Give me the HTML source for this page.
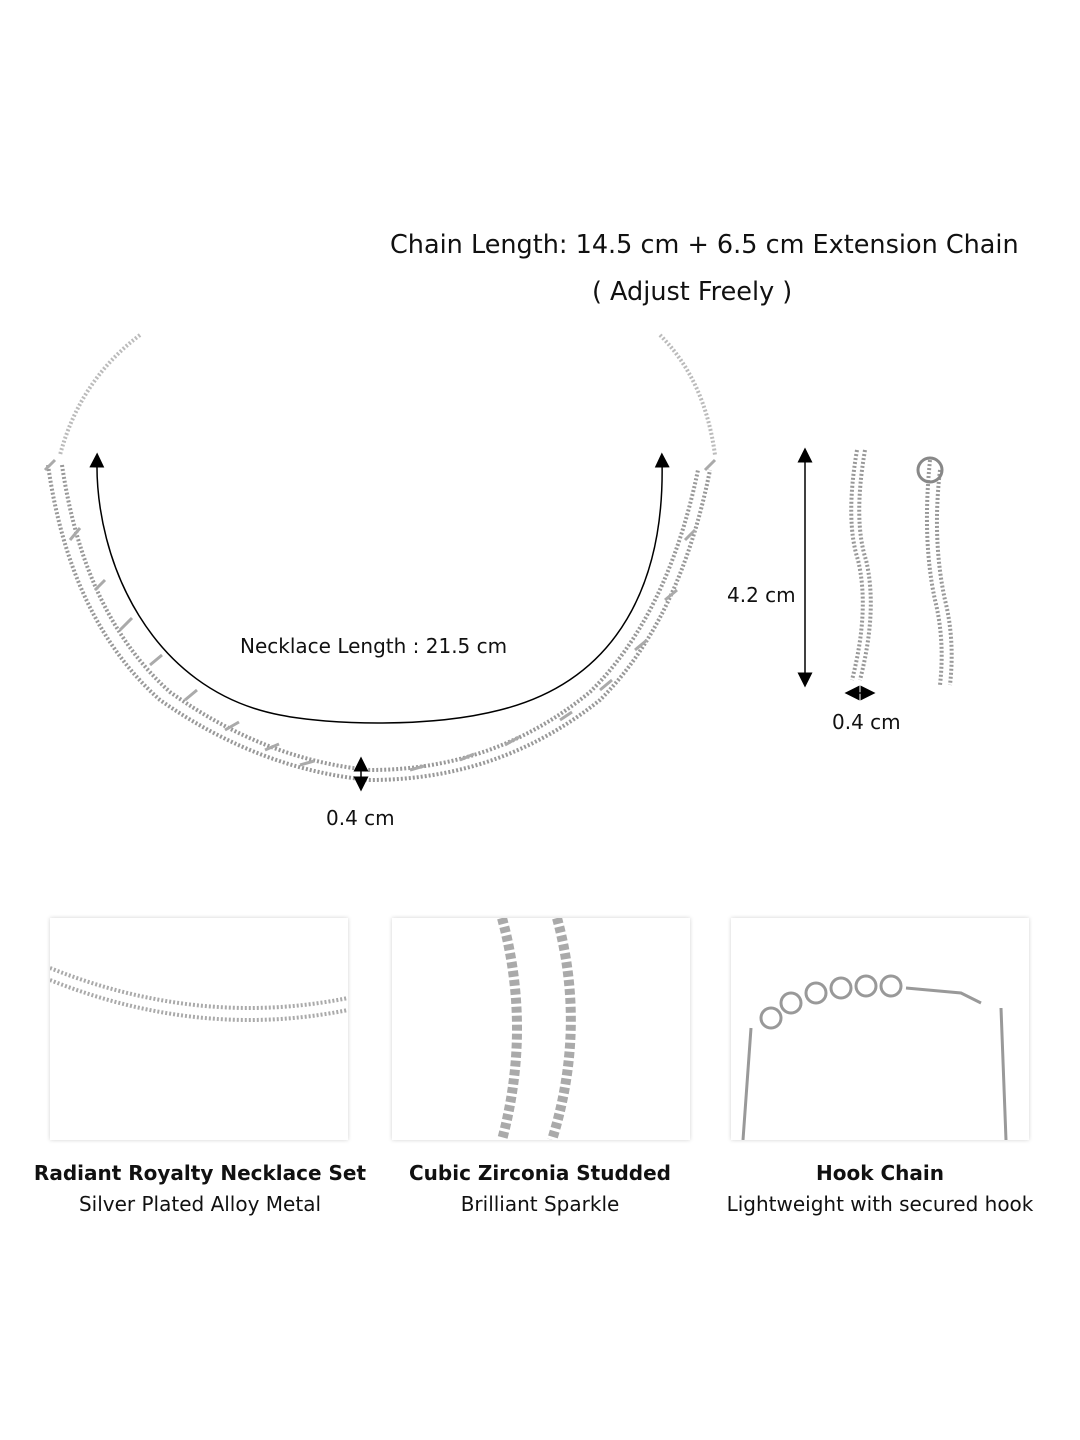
<!DOCTYPE html>
<html><head><meta charset="utf-8"><style>
body{margin:0;background:#fff;width:1080px;height:1440px;overflow:hidden;font-family:"DejaVu Sans","Liberation Sans",sans-serif;color:#111}
.t{position:absolute;white-space:nowrap}
.box{position:absolute;top:918px;width:298px;height:222px;background:#fff;box-shadow:0 0 4px rgba(0,0,0,0.18)}
.cap{position:absolute;top:1158px;text-align:center;font-size:20px;line-height:31px}
.cap b{font-weight:bold}
</style></head><body>
<div class="t" style="left:390px;top:230px;font-size:25.5px">Chain Length: 14.5 cm + 6.5 cm Extension Chain</div>
<div class="t" style="left:592px;top:277px;font-size:25.5px">( Adjust Freely )</div>
<svg width="1080" height="900" style="position:absolute;left:0;top:0">
<defs><marker id="a" markerWidth="10" markerHeight="10" refX="5" refY="5" orient="auto-start-reverse"><path d="M0,0 L10,5 L0,10 z" fill="#000"/></marker></defs>
<path d="M140,335 Q80,380 60,455" stroke="#bbb" stroke-width="4" fill="none" stroke-dasharray="2 2"/>
<path d="M660,335 Q705,380 715,455" stroke="#bbb" stroke-width="4" fill="none" stroke-dasharray="2 2"/>
<g fill="none" stroke="#999" stroke-width="4" stroke-dasharray="2 2">
<path d="M48,465 Q70,620 160,700 Q260,770 370,780 Q500,780 600,700 Q680,620 710,470"/>
<path d="M62,465 Q84,615 170,692 Q265,760 370,770 Q495,770 590,692 Q668,615 698,470"/>
</g>
<g stroke="#aaa" stroke-width="3" fill="none">
<path d="M45,470 l10,-10 M70,540 l10,-12 M95,590 l10,-10 M120,630 l12,-12 M150,665 l12,-10 M185,700 l12,-10 M225,730 l14,-8 M265,750 l14,-6 M300,765 l14,-4 M410,770 l14,-4 M460,760 l14,-6 M505,745 l14,-8 M560,720 l12,-8 M600,690 l12,-10 M635,650 l12,-10 M665,600 l12,-10 M685,540 l10,-10 M705,470 l10,-10"/>
</g>
<path d="M97,460 C95,560 150,690 280,715 C330,725 430,728 500,710 C620,680 665,580 662,460" stroke="#000" stroke-width="1.5" fill="none" marker-start="url(#a)" marker-end="url(#a)"/>
<line x1="361" y1="764" x2="361" y2="784" stroke="#000" stroke-width="1.5" marker-start="url(#a)" marker-end="url(#a)"/>
<g fill="none" stroke="#999" stroke-width="4" stroke-dasharray="2 2">
<path d="M857,450 Q845,520 858,560 Q870,610 852,680"/>
<path d="M865,450 Q853,520 866,560 Q878,610 860,680"/>
<path d="M930,460 Q922,540 935,600 Q945,640 940,685"/>
<path d="M940,470 Q932,540 945,600 Q955,640 950,685"/>
</g>
<circle cx="930" cy="470" r="12" fill="none" stroke="#888" stroke-width="3"/>
<line x1="805" y1="455" x2="805" y2="680" stroke="#000" stroke-width="1.5" marker-start="url(#a)" marker-end="url(#a)"/>
<line x1="852" y1="693" x2="868" y2="693" stroke="#000" stroke-width="1.5" marker-start="url(#a)" marker-end="url(#a)"/>
</svg>
<div class="t" style="left:240px;top:634px;font-size:20px">Necklace Length : 21.5 cm</div>
<div class="t" style="left:326px;top:806px;font-size:20px">0.4 cm</div>
<div class="t" style="left:727px;top:583px;font-size:20px">4.2 cm</div>
<div class="t" style="left:832px;top:710px;font-size:20px">0.4 cm</div>
<div class="box" style="left:50px"><svg width="298" height="222"><g fill="none" stroke="#aaa" stroke-width="4" stroke-dasharray="2 2"><path d="M0,50 Q150,110 298,80"/><path d="M0,62 Q150,122 298,92"/></g></svg></div>
<div class="box" style="left:392px"><svg width="298" height="222"><g fill="none" stroke="#aaa" stroke-width="10" stroke-dasharray="6 3"><path d="M110,0 Q140,110 110,222"/><path d="M165,0 Q195,110 160,222"/></g></svg></div>
<div class="box" style="left:731px"><svg width="298" height="222"><g fill="none" stroke="#999" stroke-width="3"><circle cx="40" cy="100" r="10"/><circle cx="60" cy="85" r="10"/><circle cx="85" cy="75" r="10"/><circle cx="110" cy="70" r="10"/><circle cx="135" cy="68" r="10"/><circle cx="160" cy="68" r="10"/><path d="M175,70 L230,75 L250,85"/><path d="M20,110 L12,222 M270,90 L275,222"/></g></svg></div>
<div class="cap" style="left:30px;width:340px"><b>Radiant Royalty Necklace Set</b><br>Silver Plated Alloy Metal</div>
<div class="cap" style="left:370px;width:340px"><b>Cubic Zirconia Studded</b><br>Brilliant Sparkle</div>
<div class="cap" style="left:700px;width:360px"><b>Hook Chain</b><br>Lightweight with secured hook</div>
</body></html>
